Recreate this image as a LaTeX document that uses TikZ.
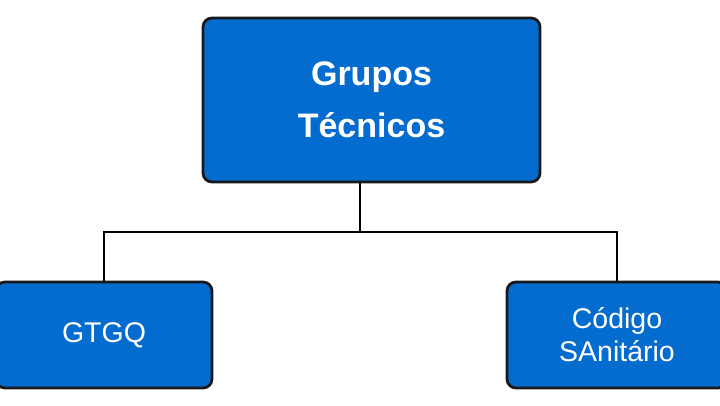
\documentclass[tikz,border=0pt]{standalone}
\usepackage{fontspec}
\setmainfont{Liberation Sans}
\usepackage{xcolor}
\usetikzlibrary{positioning}
\definecolor{boxblue}{RGB}{4,108,206}

\begin{document}
\begin{tikzpicture}[x=1pt,y=-1pt]
\tikzstyle{grupo}=[draw=black!90,line width=2.8pt,fill=boxblue,rounded corners=9pt,
  text=white,align=center,inner sep=0pt]
\useasboundingbox (0,0) rectangle (720,405);
\node [grupo,minimum width=337pt,minimum height=164pt,font=\bfseries\fontsize{34}{52}\selectfont]
  (tecnicos) at (371.5,100) {Grupos\\Técnicos};
\node [grupo,minimum width=216pt,minimum height=106pt,font=\fontsize{28.5}{33}\selectfont]
  (gtgq) at (104,335) {GTGQ};
\node [grupo,minimum width=220pt,minimum height=106pt,font=\fontsize{28.5}{33}\selectfont]
  (codigo) at (617,335) {Código\\SAnitário};
\coordinate (split) at (360,232);
\draw [line width=2.6pt] (split |- tecnicos.south) -- (split);
\draw [line width=2.6pt] (gtgq.north) |- (split) -| (codigo.north);
\end{tikzpicture}
\end{document}
